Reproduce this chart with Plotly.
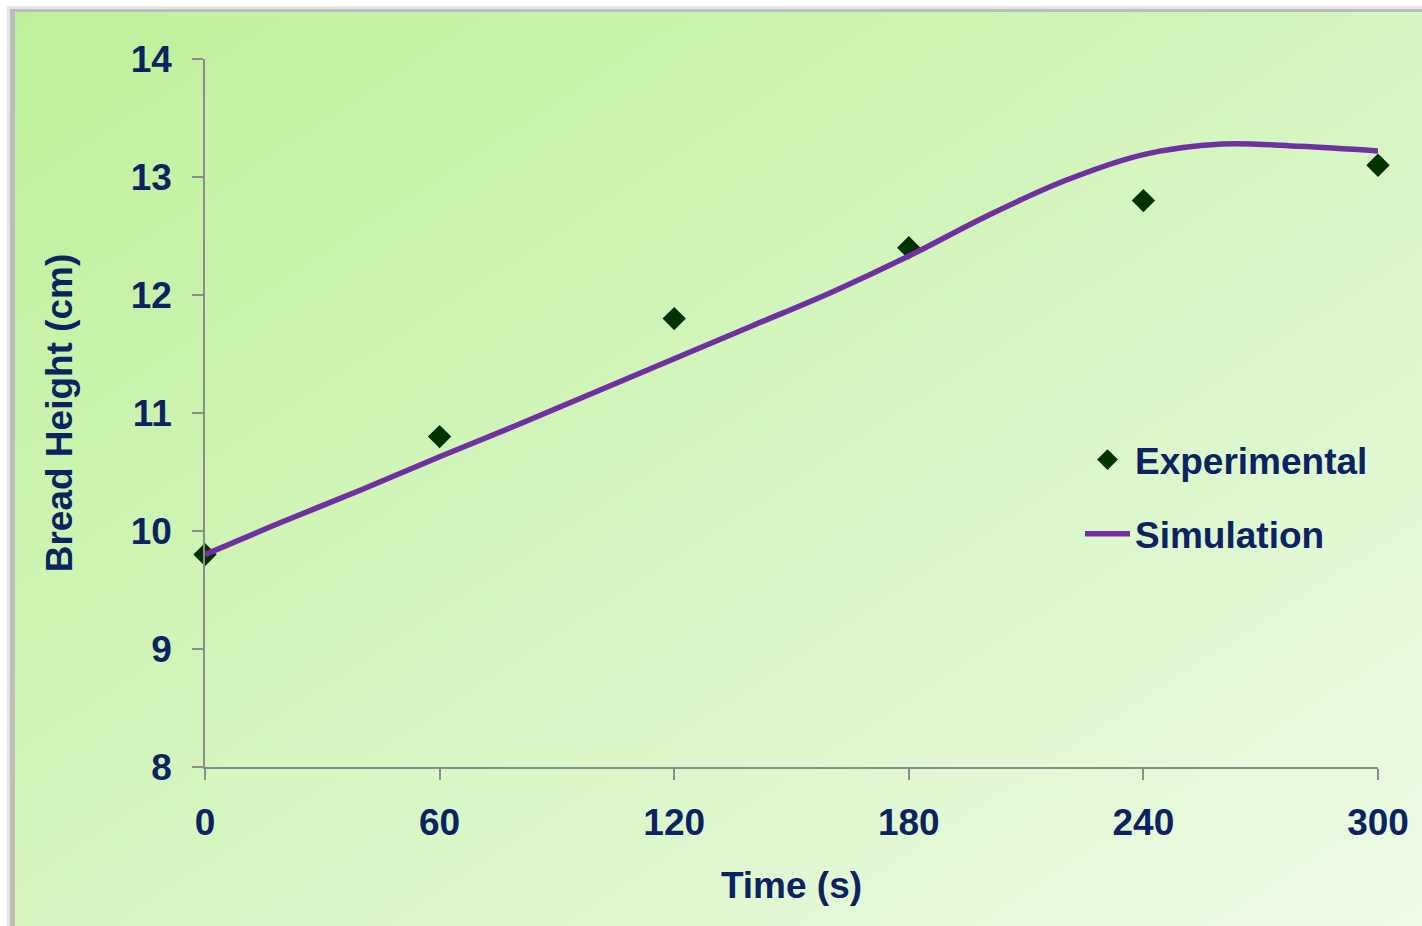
import base64
import plotly.graph_objects as go

# ---- data ----
exp_time = [0, 60, 120, 180, 240, 300]
exp_height = [9.8, 10.8, 11.8, 12.4, 12.8, 13.1]

sim_time = [0, 20, 40, 60, 80, 100, 120, 140, 160, 180, 200, 220, 240, 260, 280, 300]
sim_height = [9.80, 10.08, 10.35, 10.63, 10.90, 11.18, 11.46, 11.74, 12.02,
              12.33, 12.67, 12.97, 13.19, 13.28, 13.26, 13.22]

x_ticks = [0, 60, 120, 180, 240, 300]
y_ticks = [8, 9, 10, 11, 12, 13, 14]

# ---- figure geometry ----
W, H = 1422, 926
L, R, T, B = 205, 44, 59, 159
PW, PH = W - L - R, H - T - B

NAVY = "#0b2361"
FONT = "Liberation Sans, Arial, sans-serif"
FS = 37

svg = f"""<svg xmlns='http://www.w3.org/2000/svg' width='{W}' height='{H}' viewBox='0 0 {W} {H}' preserveAspectRatio='none'>
<defs>
<linearGradient id='g' x1='0' y1='0' x2='1' y2='1'>
<stop offset='0' stop-color='#bff09a'/>
<stop offset='0.5' stop-color='#d5f6c0'/>
<stop offset='1' stop-color='#eefae6'/>
</linearGradient>
</defs>
<rect x='0' y='0' width='{W}' height='{H}' fill='#ffffff'/>
<rect x='7' y='6' width='{W}' height='{H}' fill='#e6e6e6'/>
<rect x='10' y='9' width='{W}' height='{H}' fill='#bdbdbd'/>
<rect x='15' y='12' width='{W}' height='{H}' fill='url(#g)'/>
</svg>"""
src = "data:image/svg+xml;base64," + base64.b64encode(svg.encode()).decode()

fig = go.Figure()

fig.add_trace(go.Scatter(
    x=exp_time, y=exp_height, mode="markers", name="Experimental",
    legendgroup="a",
    marker=dict(symbol="diamond", size=18, color="#003300"),
    cliponaxis=False,
))
fig.add_trace(go.Scatter(
    x=sim_time, y=sim_height, mode="lines", name="Simulation",
    legendgroup="b",
    line=dict(color="#7030a0", width=5.5, shape="spline", smoothing=1),
    cliponaxis=False,
))

tfont = dict(family=FONT, size=FS, color=NAVY, weight="bold")

fig.update_layout(
    width=W, height=H,
    margin=dict(l=L, r=R, t=T, b=B, autoexpand=False),
    paper_bgcolor="white",
    plot_bgcolor="rgba(0,0,0,0)",
    font=tfont,
    images=[dict(
        source=src, xref="paper", yref="paper",
        x=-L / PW, y=(PH + T) / PH, sizex=W / PW, sizey=H / PH,
        xanchor="left", yanchor="top", sizing="stretch", layer="below",
    )],
    showlegend=True,
    legend=dict(
        x=(1080 - L) / PW, y=(767 - 429) / PH, xanchor="left", yanchor="top",
        bgcolor="rgba(0,0,0,0)", borderwidth=0, itemwidth=45,
        tracegroupgap=23,
        font=tfont,
    ),
    xaxis=dict(
        range=[0, 300], tickvals=x_ticks, ticktext=[str(v) for v in x_ticks],
        showgrid=False, zeroline=False,
        showline=True, linecolor="#8c8c8c", linewidth=1.5,
        ticks="outside", ticklen=11, tickwidth=1.5, tickcolor="#8c8c8c",
        ticklabelstandoff=11,
        tickfont=tfont,
        title=dict(text="Time (s)", standoff=30, font=tfont),
        fixedrange=True,
    ),
    yaxis=dict(
        range=[8, 14], tickvals=y_ticks, ticktext=[str(v) for v in y_ticks],
        showgrid=False, zeroline=False,
        showline=True, linecolor="#8c8c8c", linewidth=1.5,
        ticks="outside", ticklen=11, tickwidth=1.5, tickcolor="#8c8c8c",
        ticklabelstandoff=13,
        tickfont=tfont,
        title=dict(text="Bread Height (cm)", standoff=47, font=tfont),
        fixedrange=True,
    ),
)

fig.write_html(
    "out.html",
    config={"displayModeBar": False},
    post_script="document.body.style.margin='0px';document.body.style.overflow='hidden';",
)
